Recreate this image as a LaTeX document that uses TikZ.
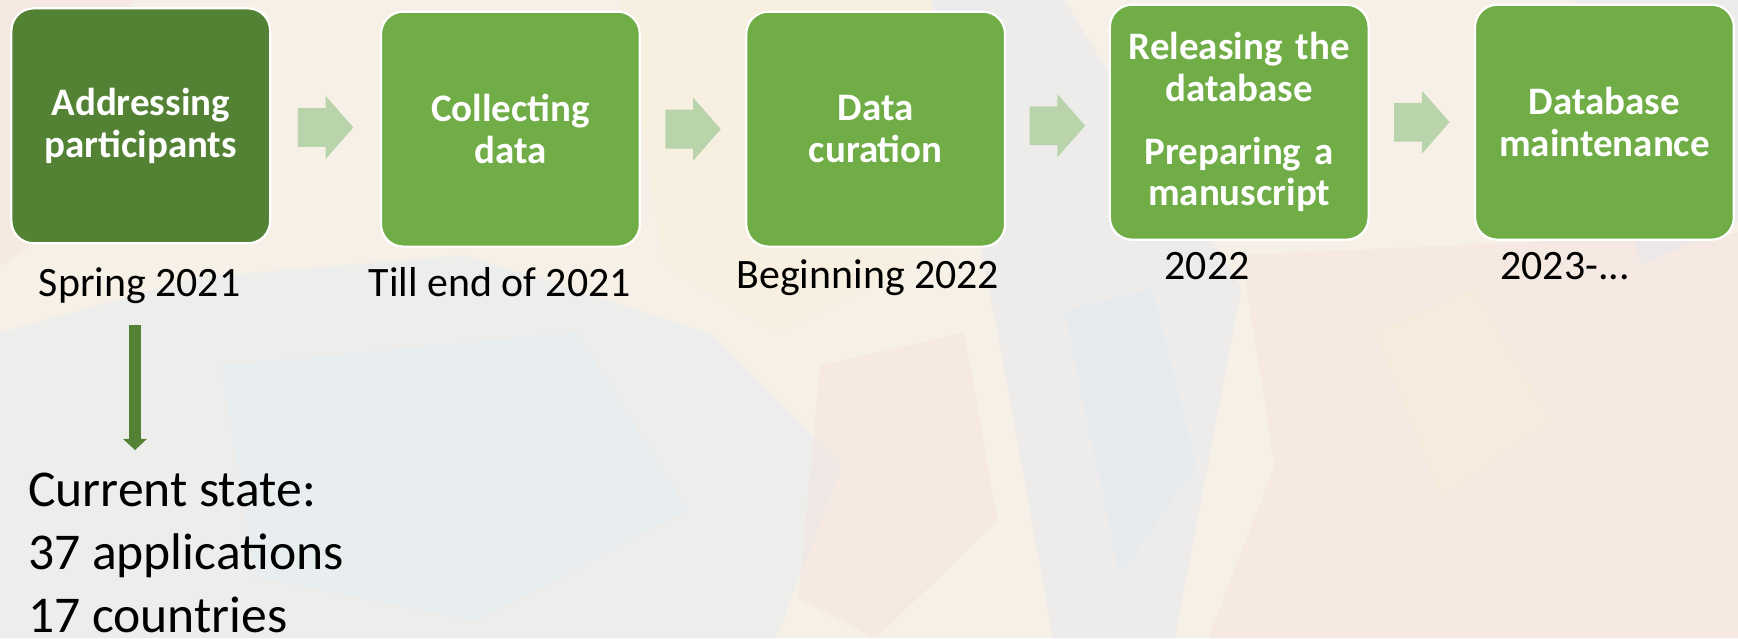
\documentclass[tikz,border=0pt]{standalone}
\usepackage{fontspec}
\setmainfont{Carlito}
\usetikzlibrary{arrows.meta,calc}
\definecolor{darkgr}{HTML}{548235}
\definecolor{midgr}{HTML}{70AD47}
\definecolor{arrgr}{HTML}{B9D4AA}
\definecolor{bgbase}{HTML}{F7F0E7}
\definecolor{bgblue}{HTML}{E2EDF3}
\definecolor{bgpink}{HTML}{F4E1DE}
\definecolor{bglav}{HTML}{E4E5F0}
\definecolor{bgyel}{HTML}{F8EED9}
\tikzset{
  stagebox/.style={draw=white, line width=0.04cm, rounded corners=0.4cm,
    minimum width=4.67cm, minimum height=4.24cm, text width=4.4cm, align=center,
    text=white, inner sep=0pt, font=\fontsize{20}{21.3}\selectfont\bfseries},
  datelbl/.style={anchor=base, inner sep=0pt, font=\fontsize{21.5}{26}\selectfont},
  statelbl/.style={anchor=base west, inner sep=0pt, font=\fontsize{26.5}{32}\selectfont},
  downarr/.style={draw=darkgr, line width=0.2cm, -{Triangle[width=0.42cm,length=0.2cm]}},
  blockarr/.pic={\fill[arrgr] (-25,-17.5) -- (0,-17.5) -- (0,-28.5) -- (25,0) -- (0,28.5) -- (0,17.5) -- (-25,17.5) -- cycle;},
  patch/.style={fill opacity=0.45}
}
\begin{document}
\begin{tikzpicture}[x=0.02cm,y=-0.02cm]
\useasboundingbox (0,0) rectangle (1568,576);
% background wash
\fill[bgbase] (0,0) rectangle (1568,576);
\fill[bgblue,patch] (0,300) -- (180,250) -- (420,230) -- (640,300) -- (760,420) -- (700,576) -- (0,576) -- cycle;
\fill[bgblue,patch] (200,330) -- (520,300) -- (620,460) -- (430,560) -- (230,520) -- cycle;
\fill[bglav,patch] (840,0) -- (960,0) -- (1120,260) -- (1060,576) -- (950,576) -- (900,300) -- cycle;
\fill[bgblue,patch] (960,280) -- (1040,260) -- (1080,420) -- (1010,520) -- cycle;
\fill[bgpink,patch] (1120,230) -- (1568,210) -- (1568,576) -- (1090,576) -- (1150,420) -- cycle;
\fill[bgpink,patch] (740,330) -- (870,300) -- (900,470) -- (790,576) -- (720,540) -- cycle;
\fill[bgyel,patch] (560,0) -- (840,0) -- (860,220) -- (700,300) -- (600,240) -- cycle;
\fill[bgyel,patch] (1240,300) -- (1330,260) -- (1400,380) -- (1300,450) -- cycle;
\fill[bglav,patch] (1420,0) -- (1568,0) -- (1568,200) -- (1480,240) -- cycle;
\fill[bgpink,patch] (0,0) -- (120,0) -- (60,200) -- (0,240) -- cycle;
% stage boxes
\node[stagebox, fill=darkgr] (b1) at (127,113.5) {Addressing\\participants};
\node[stagebox, fill=midgr] (b2) at (460.5,116.5) {Collecting\\data};
\node[stagebox, fill=midgr] (b3) at (790,116.5) {Data\\curation};
\node[stagebox, fill=midgr] (b4) at (1118,110.25) {Releasing the\\database\\[11pt]Preparing a\\manuscript};
\node[stagebox, fill=midgr] (b5) at (1447.5,110.25) {Database\\maintenance};
% block arrows between boxes
\pic at ($(b1.east)!0.5!(b2.west)$) {blockarr};
\pic at ($(b2.east)!0.5!(b3.west)$) {blockarr};
\pic at ($(b3.east)!0.5!(b4.west)$) {blockarr};
\pic at ($(b4.east)!0.5!(b5.west)$) {blockarr};
% date labels
\node[datelbl] (l1) at (126,267.7) {Spring 2021};
\node[datelbl] (l2) at (451,267.7) {Till end of 2021};
\node[datelbl] (l3) at (783,260) {Beginning 2022};
\node[datelbl] (l4) at (1089,252.6) {2022};
\node[datelbl] (l5) at (1412,252.6) {2023-...};
% current state
\node[statelbl] (s1) at (25,457) {Current state:};
\node[statelbl] (s2) at (25,514) {37 applications};
\node[statelbl] (s3) at (25,571) {17 countries};
\draw[downarr] ([shift={(-4.2,25.3)}]l1.base) -- ([shift={(-4.2,138.3)}]l1.base);
\end{tikzpicture}
\end{document}
